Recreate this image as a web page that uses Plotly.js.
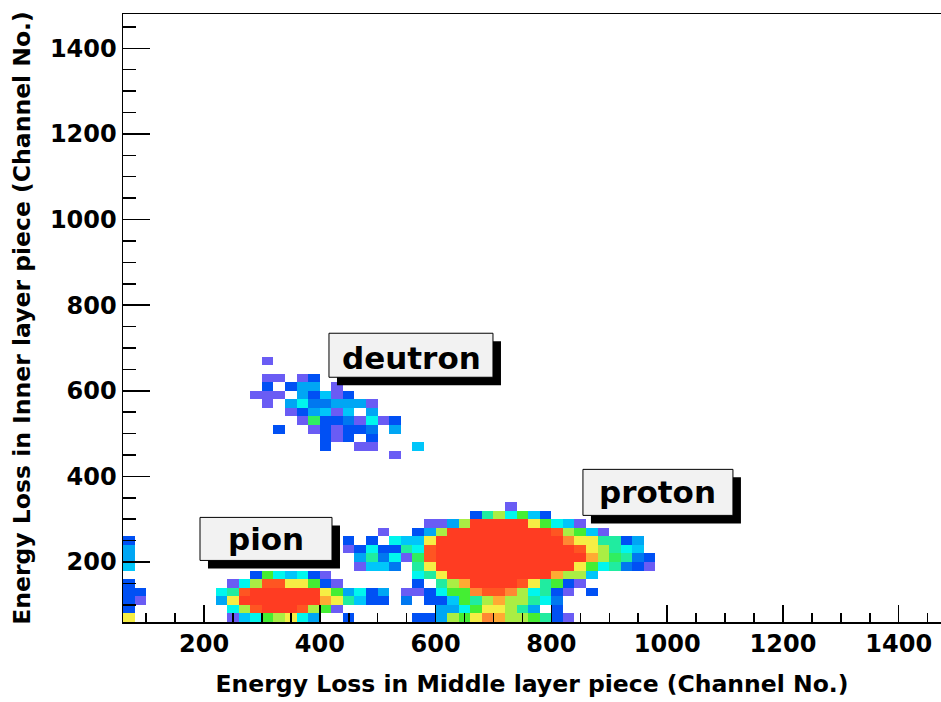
<!DOCTYPE html>
<html><head><meta charset="utf-8">
<script src="https://cdn.plot.ly/plotly-3.0.1.min.js"></script>
<style>html,body{margin:0;padding:0;background:#fff}#chart{width:941px;height:702px}</style>
</head><body><div id="chart"></div>
<script>
// ---- histogram binning ----
const xLow = 60, yLow = 60, binW = 20, binH = 20;
const nBinsX = 47, nBinsY = 32;

// colour level -> ROOT palette colour
const levelColors = ['#6a5cf4','#0050f4','#0078f0','#00a6f4','#00c6fa','#00f6ee','#20eca0',
  '#30ee60','#44ee33','#aaee44','#f6ee44','#ffaa33','#ff8833','#ff5522','#ff3c22'];

// row (y-bin index), first x-bin index, cell levels
const rowIndexY = [0,1,2,3,4,5,6,7,8,9,10,11,12,13,19,20,21,22,23,24,25,26,27,28,30];
const rowOffsetX = [0,0,0,0,0,0,0,0,0,0,0,0,0,0,11,11,11,11,11,11,11,11,11,11,11];
const rowLevels = [
  [11,0,0,0,0,0,0,0,0,1,5,6,9,10,11,6,4,0,0,2,0,0,0,0,0,2,2,4,10,9,11,13,12,10,10,9,7,2,1],
  [2,0,0,0,0,0,0,0,0,6,10,14,15,15,15,14,10,9,1,0,0,0,0,0,0,0,0,4,4,6,9,11,11,10,7,4,0,2],
  [2,1,0,0,0,0,0,0,4,11,15,15,15,15,15,15,15,12,11,7,5,2,2,0,3,0,2,2,5,9,7,10,12,10,10,7,6,3],
  [2,2,0,0,0,0,0,0,6,7,14,15,15,15,15,15,15,11,9,4,6,2,4,0,1,1,2,6,9,9,13,14,14,13,10,6,7,2,1,0,2],
  [2,0,0,0,0,0,0,0,0,1,6,10,14,14,11,11,9,2,1,0,0,0,0,0,0,2,0,7,10,12,15,15,15,15,14,11,7,9,2,1],
  [0,0,0,0,0,0,0,0,0,0,0,2,9,6,5,6,2,1,0,0,0,0,0,0,0,6,7,11,15,15,15,15,15,15,15,15,15,12,10,10,5],
  [5,0,0,0,0,0,0,0,0,0,0,0,0,0,0,0,0,0,0,0,1,5,5,3,0,7,11,15,15,15,15,15,15,15,15,15,15,15,15,11,9,6,7,3,2,1],
  [4,0,0,0,0,0,0,0,0,0,0,0,0,0,0,0,0,0,0,0,4,7,3,6,1,8,14,15,15,15,15,15,15,15,15,15,15,15,15,15,12,10,8,7,3,2],
  [4,0,0,0,0,0,0,0,0,0,0,0,0,0,0,0,0,0,0,1,2,6,2,2,7,6,14,15,15,15,15,15,15,15,15,15,15,15,15,14,11,10,7,6,5],
  [2,0,0,0,0,0,0,0,0,0,0,0,0,0,0,0,0,0,0,2,0,2,0,6,5,5,11,15,15,15,15,15,15,15,15,15,15,15,13,11,11,7,7,2,4],
  [0,0,0,0,0,0,0,0,0,0,0,0,0,0,0,0,0,0,0,0,0,0,1,0,0,2,4,10,15,15,15,15,15,15,15,15,15,14,10,9,5,1],
  [0,0,0,0,0,0,0,0,0,0,0,0,0,0,0,0,0,0,0,0,0,0,0,0,0,0,1,1,4,10,15,15,15,15,15,11,9,6,5,1],
  [0,0,0,0,0,0,0,0,0,0,0,0,0,0,0,0,0,0,0,0,0,0,0,0,0,0,0,0,0,0,2,7,10,6,9,5,2],
  [0,0,0,0,0,0,0,0,0,0,0,0,0,0,0,0,0,0,0,0,0,0,0,0,0,0,0,0,0,0,0,0,0,1],
  [0,0,0,0,0,0,0,0,0,0,0,0,1],
  [0,0,0,0,0,0,2,0,0,1,1,0,0,0,5],
  [0,0,0,0,0,0,2,1,2,0,2],
  [0,0,2,0,0,1,2,1,2,2,3,0,4],
  [0,0,0,0,1,8,2,2,3,1,6,1,2],
  [0,0,0,1,2,4,5,1,5,0,4],
  [0,1,0,4,6,3,3,4,4,4,1],
  [1,1,1,0,4,2,5,1,2],
  [0,2,0,2,4,4,0,1],
  [0,1,1,0,1,2],
  [0,1]
];

const tickValues = [200,400,600,800,1000,1200,1400];
const xTitle = 'Energy Loss in Middle layer piece (Channel No.)';
const yTitle = 'Energy Loss in Inner layer piece (Channel No.)';
const labelTexts = ['deutron','proton','pion'];

// ---- build matrix ----
const xCenters = Array.from({length:nBinsX}, (_,k) => xLow + binW*(k+0.5));
const yCenters = Array.from({length:nBinsY}, (_,j) => yLow + binH*(j+0.5));
const z = yCenters.map(() => xCenters.map(() => null));
rowIndexY.forEach((j, r) => {
  rowLevels[r].forEach((v, i) => { if (v > 0) z[j][rowOffsetX[r] + i] = v; });
});
const nL = levelColors.length;
const colorscale = [];
levelColors.forEach((c, i) => { colorscale.push([i/nL, c]); colorscale.push([(i+1)/nL, c]); });

const FONT = 'DejaVu Sans, Liberation Sans, Arial, sans-serif';
const trace = {
  type: 'heatmap', x: xCenters, y: yCenters, z: z,
  colorscale: colorscale, zmin: 0.5, zmax: nL + 0.5,
  showscale: false, hoverinfo: 'skip', xgap: 0, ygap: 0
};

// label boxes (data coords)
const boxes = [
  {x0:415.8, x1:699.1, y0:631.6, y1:734.4, tx:557.5, ty:677},
  {x0:854.5, x1:1113.6, y0:309, y1:416.5, tx:984, ty:364},
  {x0:193, x1:421, y0:203.8, y1:304.3, tx:307, ty:255}
];
const sdx = 8/0.57895, sdy = 8/0.4278;
const shapes = [], annotations = [];
boxes.forEach((b, i) => {
  shapes.push({type:'rect', xref:'x', yref:'y', layer:'above', x0:b.x0+sdx, x1:b.x1+sdx, y0:b.y0-sdy, y1:b.y1-sdy,
    fillcolor:'#000', line:{width:0}});
  shapes.push({type:'rect', xref:'x', yref:'y', layer:'above', x0:b.x0, x1:b.x1, y0:b.y0, y1:b.y1,
    fillcolor:'#f2f2f2', line:{color:'#000', width:1}});
  annotations.push({xref:'x', yref:'y', x:b.tx, y:b.ty, text:labelTexts[i], showarrow:false,
    font:{family:FONT, size:31, color:'#000', weight:700}});
});

const axisCommon = {
  showgrid:false, zeroline:false, showline:true, linecolor:'#000', linewidth:1.5,
  ticks:'inside', tickcolor:'#000', tickwidth:1.5, tickvals:tickValues,
  tickfont:{family:FONT, size:24, color:'#000', weight:700}
};
const layout = {
  width:941, height:702, margin:{l:123, r:0, t:14, b:80}, paper_bgcolor:'#fff', plot_bgcolor:'#fff',
  showlegend:false,
  xaxis: Object.assign({}, axisCommon, {range:[60,1473], mirror:true, ticklen:17,
    minor:{ticks:'inside', ticklen:9, dtick:50, tick0:0, tickcolor:'#000', tickwidth:1.5, showgrid:false},
    title:{text:xTitle, font:{family:FONT, size:23.5, color:'#000', weight:700}, standoff:18}}),
  yaxis: Object.assign({}, axisCommon, {range:[60,1480], ticklen:27,
    minor:{ticks:'inside', ticklen:13, dtick:50, tick0:0, tickcolor:'#000', tickwidth:1.5, showgrid:false},
    title:{text:yTitle, font:{family:FONT, size:23.5, color:'#000', weight:700}, standoff:12}}),
  shapes: shapes, annotations: annotations
};
Plotly.newPlot('chart', [trace], layout, {displayModeBar:false, staticPlot:true});
</script></body></html>
